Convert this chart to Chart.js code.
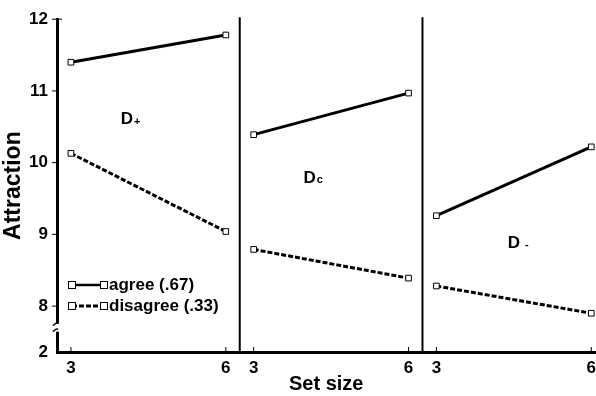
<!DOCTYPE html>
<html>
<head>
<meta charset="utf-8">
<script src="https://cdn.jsdelivr.net/npm/chart.js@4.4.1/dist/chart.umd.min.js"></script>
<style>
  html, body { margin: 0; padding: 0; background: #fff; }
  #wrap { width: 596px; height: 396px; }
</style>
</head>
<body>
<div id="wrap"><canvas id="myChart" width="596" height="396"></canvas></div>
<script>
// data
const setSizes = [3, 6];
const panelNames = ['D', 'D', 'D'];
const panelSubs = ['+', 'c', '-'];
const agree = [[11.4, 11.78], [10.39, 10.97], [9.26, 10.22]];
const disagree = [[10.13, 9.04], [8.79, 8.39], [8.28, 7.9]];
const yTicks = [8, 9, 10, 11, 12];
const breakLabel = '2';
const legendLabels = ['agree (.67)', 'disagree (.33)'];

// layout of the three panels on one x scale
const panelStep = 3.54;
const yBottom = 7.36;
const FONT = '"Liberation Sans", Arial, Helvetica, sans-serif';

const datasets = [];
agree.forEach((vals, p) => {
    datasets.push({
        label: 'agree ' + p,
        data: setSizes.map((s, i) => ({x: s + p * panelStep, y: vals[i]})),
        borderColor: '#000', borderWidth: 3,
        pointStyle: 'rect', pointRadius: 4, pointBorderWidth: 1,
        pointBackgroundColor: '#fff', pointBorderColor: '#000'
    });
});
disagree.forEach((vals, p) => {
    datasets.push({
        label: 'disagree ' + p,
        data: setSizes.map((s, i) => ({x: s + p * panelStep, y: vals[i]})),
        borderColor: '#000', borderWidth: 3, borderDash: [5, 2],
        pointStyle: 'rect', pointRadius: 4, pointBorderWidth: 1,
        pointBackgroundColor: '#fff', pointBorderColor: '#000'
    });
});

const square = (ctx, x, y) => {
    ctx.save();
    ctx.setLineDash([]);
    ctx.lineWidth = 1;
    ctx.fillStyle = '#fff';
    ctx.fillRect(x - 3.5, y - 3.5, 7, 7);
    ctx.strokeRect(x - 3.5, y - 3.5, 7, 7);
    ctx.restore();
}

//draws separators, tick marks, axis break, panel labels and the legend
const extras = {
    id: 'extras',
    afterDatasetsDraw(chart) {
        const ctx = chart.ctx;
        const xs = chart.scales.x, ys = chart.scales.y;
        const area = chart.chartArea;
        ctx.save();
        ctx.strokeStyle = '#000';

        // panel separators
        ctx.lineWidth = 2;
        for (let p = 0; p < 2; p++) {
            const px = xs.getPixelForValue(6.27 + p * panelStep);
            ctx.beginPath();
            ctx.moveTo(px, area.top - 2);
            ctx.lineTo(px, area.bottom);
            ctx.stroke();
        }

        // small x tick marks pointing up
        ctx.lineWidth = 1;
        for (let p = 0; p < 3; p++) {
            setSizes.forEach((s) => {
                const px = xs.getPixelForValue(s + p * panelStep);
                ctx.beginPath();
                ctx.moveTo(px, area.bottom);
                ctx.lineTo(px, area.bottom - 5);
                ctx.stroke();
            });
        }
        // y ticks
        yTicks.forEach((v) => {
            const py = ys.getPixelForValue(v);
            ctx.beginPath();
            ctx.moveTo(area.left - 5, py);
            ctx.lineTo(area.left, py);
            ctx.stroke();
        });
        ctx.beginPath();
        ctx.moveTo(area.left, area.top);
        ctx.lineTo(area.left + 5, area.top);
        ctx.stroke();

        // axis break
        const by = ys.getPixelForValue(7.7);
        ctx.fillStyle = '#fff';
        ctx.fillRect(area.left - 3, by - 4, 6, 8);
        ctx.lineWidth = 1.5;
        ctx.beginPath();
        ctx.moveTo(area.left - 4, by - 2);
        ctx.quadraticCurveTo(area.left, by - 6, area.left + 1, by - 4);
        ctx.moveTo(area.left - 4, by + 4);
        ctx.quadraticCurveTo(area.left, by, area.left + 1, by + 2);
        ctx.stroke();

        // panel labels
        const labelPos = [[4.08, 10.6], [4.08, 9.78], [4.5, 8.88]];
        ctx.fillStyle = '#000';
        ctx.textBaseline = 'middle';
        panelNames.forEach((name, p) => {
            const px = xs.getPixelForValue(labelPos[p][0] + p * panelStep);
            const py = ys.getPixelForValue(labelPos[p][1]);
            ctx.font = 'bold 17px ' + FONT;
            ctx.textAlign = 'left';
            ctx.fillText(name, px - 6, py);
            const w = ctx.measureText(name).width;
            ctx.font = 'bold 11px ' + FONT;
            ctx.fillText(panelSubs[p], px - 6 + w + (p === 2 ? 5 : 1), py + 2);
        });

        // legend
        const lx0 = 72, lx1 = 104;
        const rows = [285, 306];
        rows.forEach((ly, i) => {
            ctx.lineWidth = i === 0 ? 2.5 : 3;
            ctx.setLineDash(i === 0 ? [] : [5, 2]);
            ctx.beginPath();
            ctx.moveTo(lx0, ly);
            ctx.lineTo(lx1, ly);
            ctx.stroke();
            ctx.setLineDash([]);
            square(ctx, lx0, ly);
            square(ctx, lx1, ly);
            ctx.font = 'bold 17px ' + FONT;
            ctx.textAlign = 'left';
            ctx.fillText(legendLabels[i], 109, ly);
        });
        ctx.restore();
    }
};

const config = {
    type: 'line',
    data: { datasets },
    options: {
        responsive: false,
        animation: false,
        layout: { autoPadding: false, padding: { top: 18, right: 0, left: 0, bottom: 0 } },
        plugins: { legend: { display: false }, tooltip: { enabled: false } },
        scales: {
            x: {
                type: 'linear',
                min: 2.73,
                max: 3 + 2 * panelStep + 3.08,
                afterBuildTicks: (scale) => {
                    const t = [];
                    for (let p = 0; p < 3; p++) setSizes.forEach((s) => t.push({value: s + p * panelStep}));
                    scale.ticks = t;
                },
                afterFit: (scale) => { scale.height = 44; },
                // invisible tick marks give the label gap, so no side padding is added
                grid: { display: true, drawOnChartArea: false, drawTicks: true, tickLength: 6, color: 'rgba(0,0,0,0)' },
                border: { color: '#000', width: 3 },
                ticks: {
                    color: '#000',
                    padding: 0,
                    maxRotation: 0,
                    autoSkip: false,
                    font: { family: FONT, size: 17, weight: 'bold' },
                    callback: (v) => {
                        let r = v;
                        while (r > 6.5) r -= panelStep;
                        return Math.round(r).toString();
                    }
                },
                title: {
                    display: true, text: 'Set size', color: '#000',
                    font: { family: FONT, size: 20, weight: 'bold' },
                    padding: { top: 0, bottom: 0 }
                }
            },
            y: {
                min: yBottom,
                max: 12,
                afterBuildTicks: (scale) => {
                    scale.ticks = [{value: yBottom}].concat(yTicks.map((v) => ({value: v})));
                },
                afterFit: (scale) => { scale.width = 57; },
                grid: { display: false, drawTicks: false },
                border: { color: '#000', width: 3 },
                ticks: {
                    color: '#000',
                    padding: 9,
                    font: { family: FONT, size: 17, weight: 'bold' },
                    callback: (v) => v < 7.5 ? breakLabel : v.toString()
                },
                title: {
                    display: true, text: 'Attraction', color: '#000',
                    font: { family: FONT, size: 23, weight: 'bold' },
                    padding: { top: 0, bottom: 0 }
                }
            }
        }
    },
    plugins: [extras]
};

let ctx = document.getElementById('myChart');
let myChart = new Chart(ctx, config);
</script>
</body>
</html>
